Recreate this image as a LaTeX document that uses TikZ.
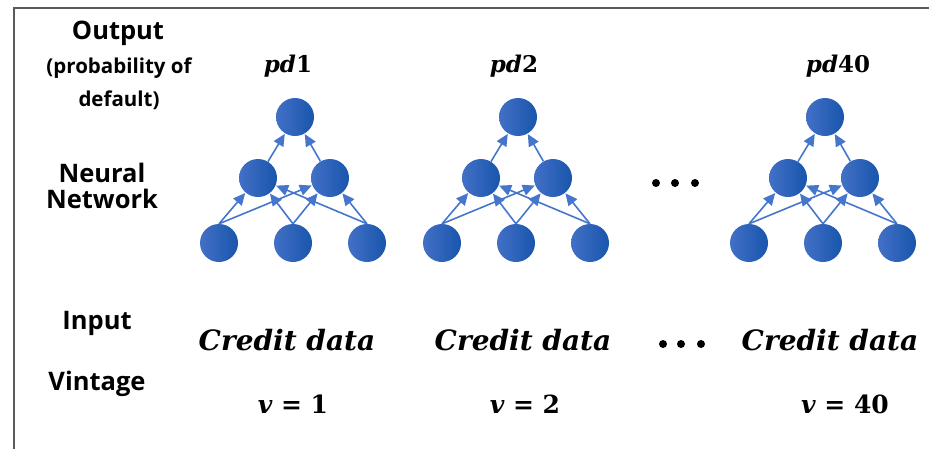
\documentclass[tikz,border=0pt]{standalone}
\usepackage[no-math]{fontspec}
\newfontfamily\labf{Open Sans}
\newfontfamily\mserif{DejaVu Serif}
\usetikzlibrary{arrows.meta}
\definecolor{nodeL}{RGB}{66,112,198}
\definecolor{nodeR}{RGB}{24,86,172}
\definecolor{edgeC}{RGB}{70,118,204}
\definecolor{frameC}{RGB}{90,90,90}
\newcommand{\mvar}[1]{{\itshape #1}}
\tikzset{
  neuron/.style={circle, minimum size=38pt, inner sep=0pt, left color=nodeL, right color=nodeR, draw=none},
  conn/.style={draw=edgeC, line width=1.6pt, -{Triangle[length=12pt,width=11pt]}, shorten >=0.5pt},
  sidelab/.style={font=\labf\bfseries\fontsize{25.5}{26}\selectfont, align=center, inner sep=0pt},
  smalllab/.style={font=\labf\bfseries\fontsize{20.5}{33}\selectfont, align=center, inner sep=0pt},
  mathlab/.style={font=\mserif\bfseries\fontsize{25}{28}\selectfont, inner sep=0pt},
  pdlab/.style={font=\mserif\bfseries\fontsize{23}{26}\selectfont, inner sep=0pt},
  cdlab/.style={font=\mserif\bfseries\fontsize{28}{30}\selectfont, inner sep=0pt},
  dot/.style={circle, fill=black, minimum size=8pt, inner sep=0pt},
}
\begin{document}
\begin{tikzpicture}[x=1pt,y=-1pt]
\useasboundingbox (0,0) rectangle (929,448);
\draw[frameC, line width=2pt] (14,449) -- (14,8) -- (930,8);

% side labels
\node[sidelab] (lout) at (118,33) {Output};
\node[smalllab] (lprob) at (119,84) {(probability of\\default)};
\node[sidelab] (lnn) at (102,186) {Neural\\Network};
\node[sidelab] (lin) at (97,323) {Input};
\node[sidelab] (lvin) at (97,384) {Vintage};

% networks
\foreach \cx/\k/\pd/\vv/\lx/\cdx/\vx in {295/1/1/1/288/287/293, 518/2/2/2/514/523/525, 825/3/40/40/838/830/845}{
  \node[neuron] (t\k) at (\cx,117) {};
  \node[neuron] (ml\k) at (\cx-37,178) {};
  \node[neuron] (mr\k) at (\cx+35,178) {};
  \node[neuron] (bl\k) at (\cx-76,243) {};
  \node[neuron] (bm\k) at (\cx-2,243) {};
  \node[neuron] (br\k) at (\cx+72,243) {};
  \draw[conn] (bl\k.north) -- (ml\k);
  \draw[conn] (bl\k.north) -- (mr\k);
  \draw[conn] (bm\k.north) -- (ml\k);
  \draw[conn] (bm\k.north) -- (mr\k);
  \draw[conn] (br\k.north) -- (ml\k);
  \draw[conn] (br\k.north) -- (mr\k);
  \draw[conn] (ml\k) -- (t\k);
  \draw[conn] (mr\k) -- (t\k);
  \node[pdlab] (pd\k) at (\lx,66) {\mvar{pd}\pd};
  \node[cdlab] (cd\k) at (\cdx,340) {\mvar{Credit data}};
  \node[mathlab] (v\k) at (\vx,404) {\mvar{v} = \vv};
}

% ellipses
\node[dot] (d1) at (656,183) {};
\node[dot] (d2) at (675,183) {};
\node[dot] (d3) at (695,183) {};
\node[dot] (e1) at (663,344) {};
\node[dot] (e2) at (681,344) {};
\node[dot] (e3) at (701,344) {};
\end{tikzpicture}
\end{document}
